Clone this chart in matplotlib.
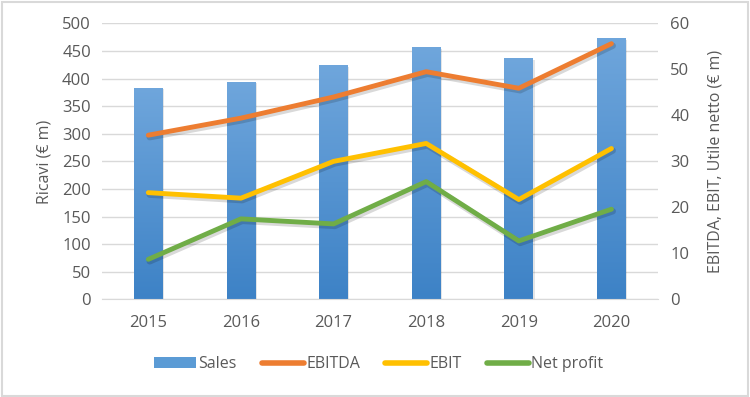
import matplotlib
matplotlib.use("Agg")
import matplotlib.pyplot as plt
import matplotlib.patheffects as pe
from matplotlib.patches import Rectangle, Patch
from matplotlib.lines import Line2D
from matplotlib.colors import LinearSegmentedColormap
import numpy as np

years = ["2015", "2016", "2017", "2018", "2019", "2020"]
sales = [383, 394, 424, 457, 437, 473]
ebitda = [35.7, 39.4, 44.0, 49.5, 45.9, 55.6]
ebit = [23.2, 22.0, 30.0, 33.9, 21.7, 32.8]
net_profit = [8.7, 17.5, 16.4, 25.6, 12.7, 19.6]

grey = "#595959"
plt.rcParams['font.family'] = ['Open Sans', 'DejaVu Sans']

fig = plt.figure(figsize=(7.5, 3.97), dpi=100)
fig.patches.append(Rectangle((0.002, 0.003), 0.995, 0.993, transform=fig.transFigure,
                             fill=False, edgecolor="#d9d9d9", linewidth=1.5))
ax = fig.add_axes([0.136, 0.246, 0.741, 0.695])
ax2 = ax.twinx()

x = np.arange(len(years))
bw = 0.31
grad = np.linspace(0, 1, 256).reshape(-1, 1)
cmap = LinearSegmentedColormap.from_list("b", ["#3d82c6", "#6fa6dc"])
bars = ax.bar(x, sales, width=bw, color="#5b9bd5", zorder=2)
for b in bars:
    x0, y0 = b.get_x(), b.get_y()
    w, h = b.get_width(), b.get_height()
    im = ax.imshow(grad, extent=[x0, x0 + w, y0, y0 + h], origin="lower",
                   aspect="auto", cmap=cmap, zorder=2)
    im.set_clip_path(b)
    b.set_path_effects([pe.SimplePatchShadow(offset=(1, -1), alpha=0.12), pe.Normal()])

ax.set_xlim(-0.5, len(years) - 0.5)
ax.set_ylim(0, 500)
ax.set_yticks(np.arange(0, 501, 50))
ax2.set_ylim(0, 60)
ax2.set_yticks(np.arange(0, 61, 10))

shadow = [pe.SimpleLineShadow(offset=(1, -1.5), alpha=0.15, linewidth=4.5), pe.Normal()]
ax2.plot(x, ebitda, color="#ed7d31", lw=3.5, solid_capstyle="round", path_effects=shadow, zorder=3)
ax2.plot(x, ebit, color="#ffc000", lw=3.5, solid_capstyle="round", path_effects=shadow, zorder=3)
ax2.plot(x, net_profit, color="#70ad47", lw=3.5, solid_capstyle="round", path_effects=shadow, zorder=3)

ax.grid(axis="y", color="#d9d9d9", linewidth=1, zorder=0)
ax.set_axisbelow(True)
for a in (ax, ax2):
    for s in a.spines.values():
        s.set_visible(False)
    a.tick_params(length=0, labelsize=12, labelcolor=grey)
ax.spines["bottom"].set_visible(True)
ax.spines["bottom"].set_color("#d9d9d9")
ax.set_xticks(x)
ax.set_xticklabels(years)
ax.tick_params(axis="x", pad=11)
ax.tick_params(axis="y", pad=8)
ax2.tick_params(axis="y", pad=9)

ax.set_ylabel("Ricavi (€ m)", fontsize=11.5, color=grey, labelpad=7)
ax2.set_ylabel("EBITDA, EBIT, Utile netto (€ m)", fontsize=11.5, color=grey, labelpad=13)

handles = [Patch(facecolor="#5b9bd5"),
           Line2D([], [], color="#ed7d31", lw=4, solid_capstyle="round"),
           Line2D([], [], color="#ffc000", lw=4, solid_capstyle="round"),
           Line2D([], [], color="#70ad47", lw=4, solid_capstyle="round")]
fig.legend(handles, ["Sales", "EBITDA", "EBIT", "Net profit"], loc="center",
           bbox_to_anchor=(0.505, 0.082), ncol=4, frameon=False, fontsize=11.5,
           labelcolor=grey, handlelength=2.6, handletextpad=0.15, columnspacing=1.6)

fig.savefig("out.png", dpi=100)
